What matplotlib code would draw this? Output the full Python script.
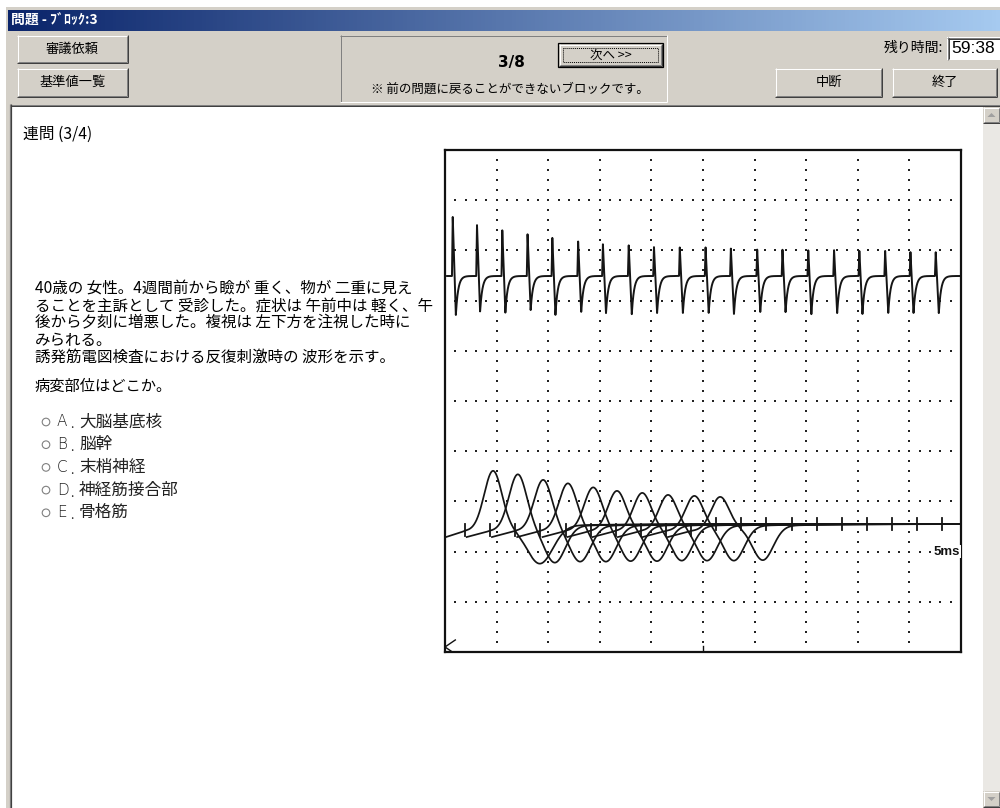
import numpy as np
import matplotlib
matplotlib.use("Agg")
import matplotlib.pyplot as plt
from matplotlib.patches import Rectangle, Circle, Polygon

plt.rcParams['font.family'] = ['Noto Sans CJK JP', 'DejaVu Sans']

# ---- data (chart units: 10 x 10 divisions) ----
# upper trace: train of 20 responses
top_times = [0.15, 0.62, 1.11, 1.60, 2.08, 2.58, 3.06, 3.56, 4.05, 4.55,
             5.05, 5.54, 6.05, 6.54, 7.04, 7.54, 8.03, 8.53, 9.02, 9.51]
top_up = [1.18, 1.02, 0.92, 0.84, 0.76, 0.69, 0.64, 0.62, 0.58, 0.57,
          0.57, 0.55, 0.53, 0.53, 0.52, 0.52, 0.50, 0.50, 0.48, 0.48]
top_down = [0.78, 0.71, 0.73, 0.68, 0.78, 0.72, 0.74, 0.76, 0.74, 0.74,
            0.74, 0.76, 0.72, 0.72, 0.76, 0.74, 0.76, 0.74, 0.74, 0.74]
top_base = 7.49

# lower trace: 10 superimposed, shifted sweeps
sweep_stim = [0.39, 0.87, 1.36, 1.85, 2.34, 2.82, 3.31, 3.80, 4.28, 4.77]
sweep_peak_x = [0.93, 1.41, 1.90, 2.38, 2.87, 3.33, 3.82, 4.32, 4.83, 5.33]
sweep_peak_y = [3.61, 3.54, 3.43, 3.36, 3.28, 3.21, 3.17, 3.13, 3.11, 3.09]
sweep_trough_x = [1.84, 2.13, 2.62, 3.12, 3.60, 4.11, 4.59, 5.08, 5.60, 6.16]
sweep_trough_y = [1.76, 1.78, 1.80, 1.80, 1.81, 1.81, 1.82, 1.82, 1.82, 1.83]
marker_x = [0.39, 0.87, 1.36, 1.85, 2.34, 2.82, 3.31, 3.80, 4.28, 4.77,
            5.26, 5.74, 6.23, 6.72, 7.20, 7.69, 8.18, 8.66, 9.15, 9.64]
bottom_base = 2.55
stim_level = 2.41
pre_level = 2.29

# ---- texts ----
title = "問題 - ﾌﾞﾛｯｸ:3"
left_buttons = ["審議依頼", "基準値一覧"]
progress = "3/8"
next_label = "次へ >>"
notice = "※ 前の問題に戻ることができないブロックです。"
timer_label = "残り時間:"
timer_value = "59:38"
right_buttons = ["中断", "終了"]
header = "連問 (3/4)"
question_lines = [
    "40歳の 女性。4週間前から瞼が 重く、物が 二重に見え",
    "ることを主訴として 受診した。症状は 午前中は 軽く、午",
    "後から夕刻に増悪した。複視は 左下方を注視した時に",
    "みられる。",
    "誘発筋電図検査における反復刺激時の 波形を示す。",
]
ask = "病変部位はどこか。"
choice_letters = ["A", "B", "C", "D", "E"]
choice_texts = ["大脳基底核", "脳幹", "末梢神経", "神経筋接合部", "骨格筋"]

FACE = "#D4D0C8"

fig = plt.figure(figsize=(10, 8.08), dpi=100)
fig.patch.set_facecolor("white")
ui = fig.add_axes([0, 0, 1, 1])
ui.set_xlim(0, 1000)
ui.set_ylim(808, 0)
ui.axis("off")


def line(x0, y0, x1, y1, c, lw=1.0, z=2):
    ui.plot([x0, x1], [y0, y1], color=c, lw=lw * 0.72, solid_capstyle="butt", zorder=z)


def button(x0, y0, x1, y1, label, size=9.5, default=False):
    ui.add_patch(Rectangle((x0, y0), x1 - x0, y1 - y0, fc=FACE, ec="none", zorder=1))
    if default:
        ui.add_patch(Rectangle((x0 - 1, y0 - 1), x1 - x0 + 2, y1 - y0 + 2,
                               fc="none", ec="black", lw=0.9, zorder=3))
    line(x0, y0 + 0.5, x1 - 1, y0 + 0.5, "white")
    line(x0 + 0.5, y0, x0 + 0.5, y1 - 1, "white")
    line(x0, y1 - 0.5, x1, y1 - 0.5, "#404040")
    line(x1 - 0.5, y0, x1 - 0.5, y1, "#404040")
    line(x0 + 1, y1 - 1.5, x1 - 1, y1 - 1.5, "#808080")
    line(x1 - 1.5, y0 + 1, x1 - 1.5, y1 - 1, "#808080")
    if default:
        ui.add_patch(Rectangle((x0 + 4, y0 + 4), x1 - x0 - 8, y1 - y0 - 8, fc="none",
                               ec="black", lw=0.7, ls=(0, (1, 1)), zorder=3))
    ui.text((x0 + x1) / 2, (y0 + y1) / 2, label, ha="center", va="center",
            fontsize=size, color="black", zorder=4)


# window frame + toolbar
ui.add_patch(Rectangle((6, 7), 994, 98, fc=FACE, ec="none", zorder=0))
ui.add_patch(Rectangle((6, 7), 4, 801, fc=FACE, ec="none", zorder=0))
grad = np.linspace(0, 1, 256)[None, :]
c0 = np.array([0x0A, 0x24, 0x6A]) / 255
c1 = np.array([0xA6, 0xCA, 0xF0]) / 255
img = c0[None, None, :] * (1 - grad[..., None]) + c1[None, None, :] * grad[..., None]
ui.imshow(img, extent=(8, 1000, 31, 10), aspect="auto", zorder=1)
ui.set_xlim(0, 1000)
ui.set_ylim(808, 0)
ui.text(11, 20.5, title, ha="left", va="center", fontsize=10, color="white",
        fontweight="bold", zorder=4)

button(17, 35, 128, 63, left_buttons[0])
button(17, 68, 128, 97, left_buttons[1])

# centre panel
line(340, 35.5, 667, 35.5, "#808080")
line(340.5, 35, 340.5, 102, "#808080")
line(340, 101.5, 667, 101.5, "white")
line(666.5, 35, 666.5, 102, "white")
ui.text(511, 62, progress, ha="center", va="center", fontsize=11,
        fontweight="bold", family="DejaVu Sans")
button(559, 44, 662, 66, next_label, size=9, default=True)
ui.text(510, 89, notice, ha="center", va="center", fontsize=9)

# timer
ui.text(943, 48, timer_label, ha="right", va="center", fontsize=10)
ui.add_patch(Rectangle((947, 37), 60, 23, fc="white", ec="none", zorder=1))
line(947, 37.5, 1000, 37.5, "#808080")
line(947.5, 37, 947.5, 60, "#808080")
line(948, 38.5, 1000, 38.5, "#404040")
line(948.5, 38, 948.5, 59, "#404040")
ui.text(951, 48.5, timer_value, ha="left", va="center", fontsize=12.5,
        family="Liberation Sans")
button(775, 68, 882, 97, right_buttons[0])
button(892, 68, 997, 97, right_buttons[1])

# content area
ui.add_patch(Rectangle((11, 105), 972, 703, fc="white", ec="none", zorder=0))
line(10, 104.5, 1000, 104.5, "#808080")
line(10, 105.5, 1000, 105.5, "#404040")
line(9.5, 104, 9.5, 808, "#808080", lw=1.2)
line(10.5, 104, 10.5, 808, "#404040", lw=1.2)

# scrollbar
ui.add_patch(Rectangle((983, 106), 17, 702, fc="#EAE8E4", ec="none", zorder=1))
for yy, up in [(107, True), (791, False)]:
    button(983, yy, 1000, yy + 16, "")
    if up:
        tri = [(987.5, yy + 10), (995.5, yy + 10), (991.5, yy + 6)]
    else:
        tri = [(987.5, yy + 6), (995.5, yy + 6), (991.5, yy + 10)]
    ui.add_patch(Polygon(tri, closed=True, fc="#A0A0A0", ec="none", zorder=4))

# question text
ui.text(23, 134, header, ha="left", va="center", fontsize=11.3)
for i, txt in enumerate(question_lines):
    ui.text(35, 289 + i * 17, txt, ha="left", va="center", fontsize=11.2)
ui.text(35, 386, ask, ha="left", va="center", fontsize=11)
for i, (let, txt) in enumerate(zip(choice_letters, choice_texts)):
    yy = 422 + i * 22.7
    ui.add_patch(Circle((46, yy), 3.8, fc="white", ec="#808080", lw=0.8, zorder=3))
    ui.text(57, yy, let, ha="left", va="center", fontsize=11, family="DejaVu Sans",
            fontweight="light", color="#222222")
    ui.text(70, yy + 3, ".", ha="left", va="center", fontsize=9, color="#222222")
    ui.text(79, yy, txt, ha="left", va="center", fontsize=12, color="#222222")

# ---- EMG chart ----
ax = fig.add_axes([445 / 1000, 1 - 652 / 808, 516 / 1000, 502 / 808])
ax.set_xlim(0, 10)
ax.set_ylim(0, 10)
ax.set_xticks([])
ax.set_yticks([])
ax.set_facecolor("white")
for sp in ax.spines.values():
    sp.set_linewidth(1.6)
    sp.set_color("#111111")

dots = np.arange(0.2, 10, 0.2)
for g in range(1, 10):
    ax.plot(np.full_like(dots, g), dots, ls="none", marker="s", ms=1.5, color="#222222",
            mew=0)
    ax.plot(dots, np.full_like(dots, g), ls="none", marker="s", ms=1.5, color="#222222",
            mew=0)

# upper trace
x = np.linspace(0.04, 9.97, 14000)
y = np.full_like(x, top_base)
for t, u, v in zip(top_times, top_up, top_down):
    rise = (x >= t - 0.015) & (x < t)
    y[rise] += u * (x[rise] - (t - 0.015)) / 0.015
    fall = (x >= t) & (x < t + 0.06)
    y[fall] += u - (u + v) * (x[fall] - t) / 0.06
    rec = x >= t + 0.06
    y[rec] -= v * np.exp(-(x[rec] - t - 0.06) / 0.045)
ax.plot(x, y, color="#151515", lw=1.4, solid_joinstyle="round")


# lower trace
def drift(xs, s, start):
    pre = pre_level + (stim_level - pre_level) * (xs - start) / (s - start)
    post = bottom_base - (bottom_base - stim_level) * np.exp(-(xs - s) / 1.2)
    return np.where(xs < s, pre, post)


def gauss(xs, c, w):
    return np.exp(-0.5 * ((xs - c) / w) ** 2)


for i in range(len(sweep_stim)):
    s = sweep_stim[i]
    start = max(0.02, s - 0.45)
    xs = np.linspace(start, 9.98, 5000)
    p, q = sweep_peak_x[i], sweep_trough_x[i]
    amp_p = sweep_peak_y[i] - drift(np.array([p]), s, start)[0]
    amp_q = drift(np.array([q]), s, start)[0] - sweep_trough_y[i]
    wq = 0.25 if i == 0 else 0.2
    ys = drift(xs, s, start) + amp_p * gauss(xs, p, 0.17) - amp_q * gauss(xs, q, wq)
    ax.plot(xs, ys, color="#151515", lw=1.25)

for k, mx in enumerate(marker_x):
    lvl = stim_level + 0.02 if k < len(sweep_stim) else bottom_base
    ax.plot([mx, mx], [lvl - 0.11, lvl + 0.11], color="#151515", lw=1.3)

ax.text(9.98, 2.0, "5ms", ha="right", va="center", fontsize=9.5, fontweight="bold",
        family="Liberation Sans", color="#111111",
        bbox=dict(fc="white", ec="none", pad=0.5))
ax.plot([0.2, 0.0, 0.2], [0.24, 0.1, -0.04], color="#111111", lw=1.0, clip_on=True)
ax.plot([5.0, 5.0], [0.0, 0.12], color="#111111", lw=1.0)

fig.savefig("out.png", dpi=100)
